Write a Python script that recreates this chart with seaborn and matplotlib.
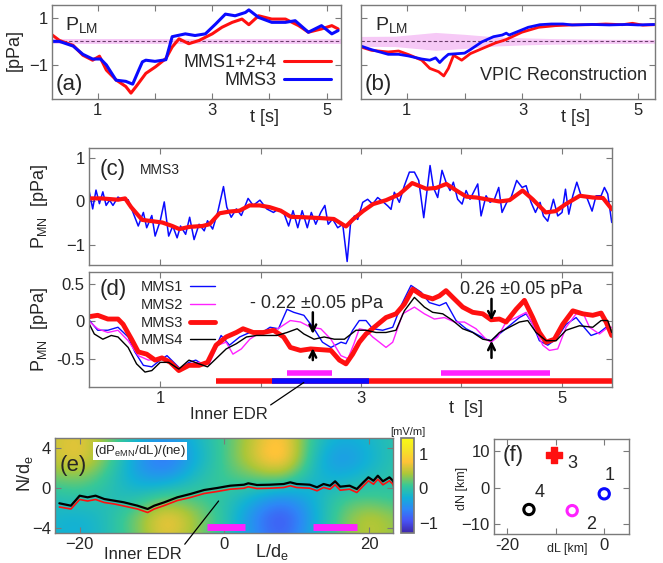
import numpy as np
import matplotlib
matplotlib.use('Agg')
import matplotlib.pyplot as plt
from matplotlib.colors import LinearSegmentedColormap
import seaborn as sns

# --
# Data

# (a) P_LM observed
a_t_red = [0.20, 0.33, 0.57, 0.74, 0.91, 1.03, 1.15, 1.32, 1.49, 1.58, 1.67, 1.84, 2.01, 2.19, 2.30, 2.42,
           2.59, 2.77, 3.00, 3.17, 3.35, 3.52, 3.64, 3.81, 4.04, 4.28, 4.51, 4.68, 4.91, 5.09, 5.20]
a_red = [0.28, 0.04, -0.17, -0.59, -0.80, -0.63, -1.22, -1.64, -1.92, -2.20, -1.92, -1.36, -1.08, -0.73, -0.24, 0.11,
         -0.10, 0.04, 0.32, 0.60, 0.81, 0.95, 0.71, 1.09, 0.95, 0.95, 0.67, 0.39, 0.53, 0.67, 0.53]
a_t_blue = [0.20, 0.33, 0.57, 0.74, 0.91, 1.05, 1.15, 1.32, 1.49, 1.61, 1.72, 1.78, 1.84, 2.00, 2.19, 2.30, 2.53,
            2.70, 2.88, 3.06, 3.23, 3.40, 3.58, 3.64, 3.81, 4.04, 4.28, 4.45, 4.68, 4.91, 5.09, 5.20]
a_blue = [0.0, 0.0, -0.20, -0.55, -0.75, -0.75, -1.00, -1.65, -1.70, -1.82, -1.20, -0.87, -0.80, -0.85, -0.78, 0.20, 0.32,
          0.25, 0.32, 0.74, 1.16, 1.09, 1.23, 1.34, 1.02, 0.81, 0.81, 0.88, 0.39, 0.67, 0.32, 0.46]
a_band_t = [0.15, 5.30]
a_band = [0.10, 0.10]

# (b) P_LM VPIC reconstruction
b_t_red = [0.21, 0.39, 0.68, 0.86, 1.03, 1.26, 1.40, 1.55, 1.64, 1.72, 1.81, 1.95, 2.10, 2.30, 2.53, 2.71,
           2.99, 3.28, 3.57, 3.86, 4.15, 4.44, 4.73, 4.90, 5.08, 5.28]
b_red = [-0.24, -0.38, -0.45, -0.41, -0.56, -0.80, -1.15, -1.29, -1.47, -1.15, -0.59, -0.80, -0.52, -0.31, -0.07, 0.07,
         0.39, 0.60, 0.67, 0.70, 0.71, 0.74, 0.71, 0.77, 0.69, 0.71]
b_t_blue = [0.21, 0.39, 0.68, 0.86, 1.03, 1.26, 1.40, 1.50, 1.57, 1.64, 1.72, 2.00, 2.10, 2.30, 2.50, 2.65, 2.72,
            2.77, 2.90, 3.10, 3.30, 3.50, 3.70, 3.86, 4.20, 4.50, 4.80, 5.00, 5.28]
b_blue = [-0.20, -0.35, -0.55, -0.55, -0.62, -0.75, -0.80, -0.70, -0.90, -0.72, -0.55, -0.50, -0.35, -0.02, 0.20, 0.27,
          0.35, 0.27, 0.40, 0.60, 0.71, 0.74, 0.74, 0.70, 0.72, 0.70, 0.72, 0.70, 0.72]
b_band_t = [0.15, 0.80, 1.50, 2.00, 2.50, 3.00, 3.50, 4.50, 5.35]
b_band = [0.21, 0.22, 0.38, 0.30, 0.20, 0.15, 0.12, 0.09, 0.08]

# (c) P_MN MMS3, raw and smoothed
c_t_raw = [0.283, 0.327, 0.360, 0.394, 0.428, 0.461, 0.495, 0.529, 0.579, 0.630, 0.680, 0.747, 0.781, 0.832,
           0.865, 0.916, 0.949, 1.000, 1.040, 1.084, 1.125, 1.168, 1.202, 1.253, 1.293, 1.337, 1.387, 1.438,
           1.471, 1.522, 1.572, 1.630, 1.663, 1.707, 1.758, 1.808, 1.875, 1.926, 1.993, 2.061, 2.128, 2.178,
           2.229, 2.279, 2.323, 2.370, 2.414, 2.465, 2.505, 2.549, 2.599, 2.640, 2.673, 2.717, 2.768, 2.818,
           2.862, 2.895, 2.934, 2.967, 3.017, 3.066, 3.116, 3.166, 3.216, 3.266, 3.299, 3.332, 3.382, 3.432,
           3.482, 3.532, 3.575, 3.625, 3.658, 3.688, 3.721, 3.764, 3.807, 3.847, 3.887, 3.920, 3.963, 4.007,
           4.047, 4.086, 4.130, 4.163, 4.196, 4.246, 4.286, 4.329, 4.372, 4.405, 4.452, 4.495, 4.551, 4.605,
           4.645, 4.694, 4.738, 4.784, 4.817, 4.860, 4.917, 4.960, 5.003, 5.037, 5.070, 5.110, 5.150, 5.193,
           5.243, 5.302, 5.342, 5.392, 5.425, 5.458, 5.498]
c_raw = [0.34, -0.17, 0.26, -0.05, 0.22, -0.09, 0.03, -0.09, 0.10, 0.03, 0.04, -0.36, -0.56, -0.25,
         -0.60, -0.32, -0.79, -0.44, -0.01, -0.79, -0.56, -0.83, -0.56, -0.75, -0.36, -0.87, -0.52, -0.67,
         -0.44, -0.63, -0.25, 0.34, -0.13, -0.36, -0.17, -0.32, 0.07, -0.09, 0.03, -0.17, -0.25, -0.17,
         -0.25, -0.56, -0.21, -0.60, -0.21, -0.60, -0.25, -0.52, -0.25, -0.09, -0.52, -0.40, -0.60, -0.52,
         -1.37, -0.52, -0.33, -0.41, -0.02, 0.05, -0.06, 0.09, 0.0, -0.10, -0.18, 0.21, -0.02, 0.36,
         0.67, 0.67, 0.48, -0.37, 0.25, 0.82, 0.32, 0.09, 0.71, 0.44, 0.25, 0.44, 0.05, -0.06,
         0.25, 0.05, 0.25, 0.40, -0.33, 0.13, -0.02, 0.05, 0.32, -0.25, -0.02, 0.09, 0.48, 0.32,
         0.36, -0.02, -0.25, -0.02, -0.33, -0.45, 0.05, -0.33, -0.25, 0.28, -0.29, 0.13, 0.44, 0.13,
         0.13, -0.22, 0.13, 0.13, 0.32, 0.17, -0.48]
c_t_smooth = [0.28, 0.41, 0.58, 0.65, 0.71, 0.82, 0.92, 1.02, 1.12, 1.19, 1.29, 1.42, 1.49, 1.59, 1.69, 1.79,
              1.89, 1.99, 2.09, 2.20, 2.30, 2.43, 2.60, 2.73, 2.85, 2.92, 3.02, 3.12, 3.25, 3.38, 3.51, 3.65,
              3.75, 3.85, 3.95, 4.05, 4.15, 4.25, 4.38, 4.48, 4.61, 4.71, 4.84, 4.94, 5.04, 5.18, 5.31, 5.41, 5.50]
c_smooth = [0.07, 0.07, 0.04, 0.07, -0.13, -0.42, -0.45, -0.48, -0.56, -0.63, -0.58, -0.56, -0.52, -0.27, -0.23, -0.21,
            -0.09, -0.09, -0.13, -0.21, -0.35, -0.36, -0.38, -0.40, -0.57, -0.41, -0.22, -0.06, 0.03, 0.16, 0.42, 0.29,
            0.31, 0.40, 0.25, 0.11, 0.09, 0.05, 0.0, 0.03, 0.25, 0.05, -0.25, -0.22, -0.06, 0.13, 0.09, 0.08, -0.18]

# (d) P_MN, four spacecraft
d_t1 = [0.283, 0.377, 0.478, 0.579, 0.680, 0.747, 0.832, 0.916, 1.000, 1.067, 1.135, 1.202, 1.286, 1.354, 1.438,
        1.522, 1.606, 1.690, 1.791, 1.892, 1.993, 2.094, 2.178, 2.263, 2.330, 2.431, 2.532, 2.616, 2.700, 2.801,
        2.850, 2.917, 2.983, 3.050, 3.116, 3.216, 3.316, 3.399, 3.498, 3.598, 3.681, 3.781, 3.847, 3.947, 4.047,
        4.146, 4.246, 4.296, 4.379, 4.478, 4.578, 4.645, 4.711, 4.777, 4.860, 4.944, 5.043, 5.143, 5.209, 5.292,
        5.375, 5.442, 5.498]
d_mms1 = [0.03, -0.12, -0.12, -0.08, -0.21, -0.41, -0.59, -0.61, -0.52, -0.46, -0.55, -0.64, -0.55, -0.52, -0.59,
          -0.44, -0.19, -0.32, -0.21, -0.15, -0.17, -0.08, -0.10, 0.16, 0.12, 0.08, -0.10, -0.28, -0.35, -0.28,
          -0.30, -0.12, 0.01, 0.01, -0.10, -0.12, -0.08, 0.21, 0.48, 0.39, 0.25, 0.21, 0.25, 0.01, -0.10,
          -0.17, -0.24, -0.26, -0.17, -0.06, 0.05, 0.10, -0.04, -0.26, -0.32, -0.24, -0.04, 0.05, -0.06, -0.19,
          -0.15, -0.08, -0.15]
d_t2 = [0.283, 0.377, 0.478, 0.579, 0.680, 0.781, 0.882, 0.983, 1.084, 1.185, 1.286, 1.387, 1.488, 1.572, 1.657,
        1.724, 1.808, 1.892, 1.993, 2.094, 2.195, 2.296, 2.397, 2.498, 2.599, 2.700, 2.800, 2.870, 2.930, 2.983,
        3.050, 3.116, 3.183, 3.249, 3.316, 3.415, 3.532, 3.631, 3.731, 3.831, 3.930, 4.030, 4.146, 4.246, 4.296,
        4.362, 4.445, 4.545, 4.645, 4.711, 4.811, 4.877, 4.960, 5.043, 5.143, 5.209, 5.276, 5.375, 5.442, 5.498]
d_mms2 = [0.01, -0.10, -0.15, -0.12, -0.26, -0.46, -0.52, -0.50, -0.52, -0.64, -0.57, -0.55, -0.57, -0.32, -0.28,
          -0.44, -0.37, -0.24, -0.15, -0.15, -0.08, 0.01, -0.01, -0.08, -0.10, -0.24, -0.46, -0.50, -0.30, -0.10,
          -0.12, -0.21, -0.28, -0.35, -0.28, 0.10, 0.19, 0.10, 0.03, 0.05, -0.01, -0.01, -0.10, -0.24, -0.28,
          -0.21, -0.01, 0.05, 0.12, -0.04, -0.32, -0.39, -0.37, -0.08, 0.10, 0.12, -0.08, -0.17, -0.10, -0.08]
d_t3 = [0.283, 0.377, 0.478, 0.579, 0.630, 0.714, 0.781, 0.865, 0.949, 1.017, 1.101, 1.185, 1.286, 1.387, 1.471,
        1.556, 1.657, 1.758, 1.825, 1.926, 2.027, 2.128, 2.229, 2.296, 2.397, 2.498, 2.599, 2.700, 2.785, 2.850,
        2.917, 2.983, 3.050, 3.150, 3.249, 3.349, 3.432, 3.515, 3.615, 3.714, 3.781, 3.847, 3.914, 4.013, 4.113,
        4.213, 4.296, 4.379, 4.445, 4.545, 4.628, 4.711, 4.777, 4.844, 4.927, 5.010, 5.110, 5.209, 5.309, 5.392,
        5.442, 5.498]
d_mms3 = [0.06, 0.08, 0.03, 0.03, -0.04, -0.24, -0.41, -0.44, -0.52, -0.49, -0.55, -0.66, -0.59, -0.59, -0.55,
          -0.32, -0.21, -0.15, -0.10, -0.15, -0.15, -0.12, -0.21, -0.35, -0.39, -0.37, -0.38, -0.39, -0.52, -0.57,
          -0.44, -0.28, -0.17, -0.06, 0.05, 0.10, 0.23, 0.43, 0.34, 0.30, 0.34, 0.41, 0.32, 0.19, 0.12,
          0.10, 0.02, 0.03, -0.01, 0.16, 0.28, 0.05, -0.15, -0.28, -0.24, -0.04, 0.14, 0.10, 0.08, 0.11,
          -0.01, -0.19]
d_t4 = [0.283, 0.343, 0.428, 0.512, 0.579, 0.680, 0.764, 0.848, 0.916, 1.000, 1.084, 1.185, 1.286, 1.387, 1.471,
        1.572, 1.657, 1.758, 1.859, 1.960, 2.061, 2.162, 2.263, 2.364, 2.431, 2.532, 2.633, 2.734, 2.835, 2.950,
        3.050, 3.150, 3.249, 3.349, 3.432, 3.532, 3.631, 3.714, 3.814, 3.914, 4.013, 4.113, 4.213, 4.296, 4.379,
        4.478, 4.578, 4.661, 4.744, 4.844, 4.944, 5.043, 5.176, 5.309, 5.392, 5.458, 5.498]
d_mms4 = [-0.01, -0.17, -0.24, -0.19, -0.21, -0.35, -0.57, -0.68, -0.66, -0.55, -0.55, -0.64, -0.52, -0.57, -0.61,
          -0.48, -0.37, -0.30, -0.21, -0.19, -0.19, -0.19, -0.15, -0.10, -0.17, -0.24, -0.21, -0.24, -0.24, -0.12,
          -0.12, -0.15, -0.15, -0.12, 0.14, 0.32, 0.19, 0.12, 0.10, 0.01, -0.10, -0.15, -0.24, -0.26, -0.15,
          -0.08, -0.01, 0.01, -0.15, -0.26, -0.26, -0.12, -0.06, -0.08, 0.01, 0.01, -0.15]
d_red_bar = [1.56, 5.50]
d_blue_bar = [2.11, 3.08]
d_mag_bars = [(2.26, 2.71), (3.80, 4.88)]
d_arrow_t = [2.52, 4.30]

# (e) dP_eMN/dL / (ne) map, coarse grid (rows N = 5..-5, cols L = -24..24)
e_L_nodes = [-24, -20, -16, -12, -8, -4, 0, 4, 8, 12, 16, 20, 24]
e_N_nodes = [5, 3, 1, -1, -3, -5]
e_field = [
    [0.5, 0.7, 0.3, -0.2, -0.5, -0.2, 0.1, 0.5, 0.9, 0.0, -0.3, -0.2, 0.0],
    [0.5, 0.8, 0.2, -0.5, -0.9, -0.3, 0.1, 0.6, 1.1, -0.1, -0.6, -0.3, 0.0],
    [0.2, 0.3, 0.0, -0.4, -0.5, -0.1, 0.1, 0.2, 0.3, -0.2, -0.3, -0.1, 0.0],
    [-0.1, 0.0, -0.1, -0.1, 0.2, 0.1, 0.0, -0.3, -0.6, -0.3, 0.1, 0.1, 0.0],
    [-0.2, -0.3, -0.1, 0.3, 0.9, 0.4, 0.0, -0.6, -1.1, -0.4, 0.2, 0.6, 0.3],
    [-0.2, -0.3, -0.1, 0.2, 0.7, 0.3, 0.0, -0.5, -0.9, -0.3, 0.2, 0.5, 0.3],
]
e_L = [-22.8, -21.2, -20.0, -18.9, -17.8, -16.6, -15.2, -13.9, -12.0, -10.6, -9.7, -8.3, -6.5, -4.7, -2.8, -1.0,
       0.8, 2.7, 3.3, 4.5, 6.3, 8.2, 9.1, 10.0, 11.8, 12.8, 13.7, 14.6, 15.3, 16.0, 17.3, 18.3, 19.2, 19.9,
       20.6, 21.2, 21.9, 22.8, 23.3, 23.7]
e_black = [-1.53, -1.77, -0.77, -0.93, -0.77, -1.10, -1.27, -1.43, -1.77, -2.10, -1.77, -1.43, -0.93, -0.60, -0.20,
           0.0, 0.23, 0.33, 0.47, 0.30, 0.33, 0.40, 0.57, 0.40, 0.33, 0.07, 0.40, 0.23, 0.67, 0.13, 0.23, -0.10,
           0.57, 1.07, 0.73, 1.23, 0.67, 1.07, 0.73, -0.60]
e_red = [-1.90, -2.10, -1.15, -1.30, -1.15, -1.45, -1.60, -1.80, -2.10, -2.45, -2.10, -1.75, -1.25, -0.95, -0.55,
         -0.35, -0.12, -0.02, 0.12, -0.05, -0.02, 0.05, 0.22, 0.05, -0.02, -0.28, 0.05, -0.12, 0.32, -0.22, -0.12,
         -0.45, 0.22, 0.72, 0.38, 0.88, 0.32, 0.72, 0.38, -0.95]
e_mag_bars = [(-2.4, 2.9), (12.3, 18.3)]

# (f) spacecraft positions
f_names = ['1', '2', '3', '4']
f_dL = [0.0, -6.6, -10.3, -15.5]
f_dN = [-1.7, -6.3, 8.8, -6.0]

# --
# Style

sns.set_theme(style='ticks')
plt.rcParams['font.family'] = ['Liberation Sans', 'DejaVu Sans']
plt.rcParams['mathtext.default'] = 'regular'

RED = '#ff1010'
BLUE = '#0a0aff'
MAG = '#ff22ff'
SPINE = '#7a7a7a'

parula = LinearSegmentedColormap.from_list('parula', [
    (0.2422, 0.1504, 0.6603), (0.2810, 0.3228, 0.9579), (0.1786, 0.5289, 0.9682),
    (0.0689, 0.6948, 0.8394), (0.2161, 0.7843, 0.5923), (0.6720, 0.7793, 0.2227),
    (0.9970, 0.7659, 0.2199), (0.9639, 0.8890, 0.1537), (0.9769, 0.9839, 0.0805)])


def frame(ax, size=12):
    for s in ax.spines.values():
        s.set_color(SPINE)
        s.set_linewidth(1.0)
    ax.tick_params(direction='in', top=True, right=True, length=4, width=0.8,
                   color=SPINE, labelsize=size, pad=3)


fig = plt.figure(figsize=(6.63, 5.63), dpi=100)

# --
# (a)
ax = fig.add_axes([0.0784, 0.8242, 0.4359, 0.167])
ax.fill_between(a_band_t, -np.array(a_band), a_band, color='#f6c9f6', lw=0)
ax.axhline(0, color='#6a3d6a', lw=0.8, ls=(0, (3, 2)))
sns.lineplot(x=a_t_red, y=a_red, ax=ax, color=RED, lw=2.2, estimator=None, label='MMS1+2+4')
sns.lineplot(x=a_t_blue, y=a_blue, ax=ax, color=BLUE, lw=2.2, estimator=None, label='MMS3')
ax.set_xlim(0.2, 5.25)
ax.set_ylim(-2.45, 1.55)
ax.set_xticks([1, 2, 3, 4, 5], ['1', '', '3', '', '5'])
ax.set_yticks([-1, 1])
frame(ax)
ax.legend(loc='lower right', frameon=False, markerfirst=False, fontsize=13, handlelength=2.6,
          labelspacing=0.05, borderaxespad=0.15, handletextpad=0.4)
ax.set_ylabel('[pPa]', fontsize=13)
ax.yaxis.set_label_coords(-0.1, 0.52)
ax.set_xlabel('t [s]', fontsize=13)
ax.xaxis.set_label_coords(0.737, -0.11)
ax.text(0.26, -1.85, '(a)', fontsize=16, va='center')
ax.text(0.43, 0.7, r'$\mathregular{P_{LM}}$', fontsize=14, va='center')

# --
# (b)
ax = fig.add_axes([0.5445, 0.8242, 0.4434, 0.167])
ax.fill_between(b_band_t, -np.array(b_band), b_band, color='#f6c9f6', lw=0)
ax.axhline(0, color='#6a3d6a', lw=0.8, ls=(0, (3, 2)))
sns.lineplot(x=b_t_red, y=b_red, ax=ax, color=RED, lw=2.0, estimator=None)
sns.lineplot(x=b_t_blue, y=b_blue, ax=ax, color=BLUE, lw=2.0, estimator=None)
ax.set_xlim(0.21, 5.29)
ax.set_ylim(-2.45, 1.55)
ax.set_xticks([1, 2, 3, 4, 5], ['1', '', '3', '', '5'])
ax.set_yticks([-1, 1], ['', ''])
frame(ax)
ax.set_xlabel('t [s]', fontsize=13)
ax.xaxis.set_label_coords(0.728, -0.11)
ax.text(0.28, -1.85, '(b)', fontsize=16, va='center')
ax.text(0.45, 0.7, r'$\mathregular{P_{LM}}$', fontsize=14, va='center')
ax.text(5.15, -1.45, 'VPIC Reconstruction', fontsize=13, ha='right', va='center')

# --
# (c)
ax = fig.add_axes([0.1342, 0.5293, 0.7888, 0.2078])
sns.lineplot(x=c_t_raw, y=c_raw, ax=ax, color=BLUE, lw=1.1, estimator=None)
sns.lineplot(x=c_t_smooth, y=c_smooth, ax=ax, color=RED, lw=3.0, estimator=None)
ax.set_xlim(0.29, 5.5)
ax.set_ylim(-1.45, 1.22)
ax.set_xticks([1, 2, 3, 4, 5], [])
ax.set_yticks([-1, 0, 1])
frame(ax, 12)
ax.set_ylabel(r'$\mathregular{P_{MN}}$  [pPa]', fontsize=13)
ax.yaxis.set_label_coords(-0.075, 0.5)
ax.text(0.40, 0.72, '(c)', fontsize=16, va='center')
ax.text(0.80, 0.72, 'MMS3', fontsize=10, va='center')

# --
# (d)
ax = fig.add_axes([0.1342, 0.3126, 0.7888, 0.2043])
sns.lineplot(x=d_t1, y=d_mms1, ax=ax, color=BLUE, lw=1.0, estimator=None, label='MMS1')
sns.lineplot(x=d_t2, y=d_mms2, ax=ax, color=MAG, lw=1.0, estimator=None, label='MMS2')
sns.lineplot(x=d_t3, y=d_mms3, ax=ax, color=RED, lw=3.5, estimator=None, label='MMS3')
sns.lineplot(x=d_t4, y=d_mms4, ax=ax, color='black', lw=1.0, estimator=None, label='MMS4')
ax.plot(d_red_bar, [-0.80, -0.80], color=RED, lw=4, solid_capstyle='butt')
ax.plot(d_blue_bar, [-0.80, -0.80], color=BLUE, lw=4, solid_capstyle='butt')
for b0, b1 in d_mag_bars:
    ax.plot([b0, b1], [-0.69, -0.69], color=MAG, lw=4, solid_capstyle='butt')
arr = dict(arrowstyle='->', lw=1.8, color='black', mutation_scale=12, shrinkA=0, shrinkB=0)
ax.annotate('', xy=(d_arrow_t[0], -0.17), xytext=(d_arrow_t[0], 0.12), arrowprops=arr)
ax.annotate('', xy=(d_arrow_t[0], -0.36), xytext=(d_arrow_t[0], -0.52), arrowprops=arr)
ax.annotate('', xy=(d_arrow_t[1], 0.01), xytext=(d_arrow_t[1], 0.30), arrowprops=arr)
ax.annotate('', xy=(d_arrow_t[1], -0.26), xytext=(d_arrow_t[1], -0.49), arrowprops=arr)
ax.text(1.89, 0.24, '- 0.22 \u00b10.05 pPa', fontsize=13, va='center')
ax.text(3.99, 0.43, '0.26 \u00b10.05 pPa', fontsize=13, va='center')
ax.annotate('Inner EDR', xy=(2.43, -0.82), xytext=(1.68, -1.25), fontsize=12, ha='center', va='center',
            annotation_clip=False,
            arrowprops=dict(arrowstyle='-', lw=0.9, color='black', relpos=(1, 1), shrinkA=0, shrinkB=0))
ax.set_xlim(0.29, 5.5)
ax.set_ylim(-0.88, 0.66)
ax.set_xticks([1, 2, 3, 4, 5], ['1', '', '3', '', '5'])
ax.set_yticks([-0.5, 0, 0.5], ['-0.5', '0', '0.5'])
frame(ax, 12)
ax.legend(loc='upper left', bbox_to_anchor=(0.085, 0.99), frameon=False, markerfirst=False, fontsize=10.5,
          handlelength=1.7, labelspacing=0.25, borderaxespad=0.1, handletextpad=0.5)
ax.set_ylabel(r'$\mathregular{P_{MN}}$  [pPa]', fontsize=13)
ax.yaxis.set_label_coords(-0.075, 0.5)
ax.set_xlabel('t  [s]', fontsize=13)
ax.xaxis.set_label_coords(0.72, -0.11)
ax.text(0.40, 0.43, '(d)', fontsize=16, va='center')

# --
# (e)
ax = fig.add_axes([0.083, 0.0533, 0.5098, 0.1687])
im = ax.imshow(e_field, extent=[e_L_nodes[0] - 2, e_L_nodes[-1] + 2, e_N_nodes[-1] - 1, e_N_nodes[0] + 1],
               cmap=parula, vmin=-1.3, vmax=1.45, interpolation='bicubic', aspect='auto', origin='upper')
sns.lineplot(x=e_L, y=e_black, ax=ax, color='black', lw=1.6, estimator=None, sort=False)
sns.lineplot(x=e_L, y=e_red, ax=ax, color=RED, lw=1.2, estimator=None, sort=False)
for b0, b1 in e_mag_bars:
    ax.plot([b0, b1], [-3.9, -3.9], color=MAG, lw=5, solid_capstyle='butt')
ax.annotate('Inner EDR', xy=(-0.8, -1.3), xytext=(-11.2, -6.7), fontsize=12, ha='center', va='center',
            annotation_clip=False,
            arrowprops=dict(arrowstyle='-', lw=0.9, color='black', relpos=(1, 1), shrinkA=0, shrinkB=0))
ax.set_xlim(-23.4, 23.3)
ax.set_ylim(-4.5, 5)
ax.set_xticks([-20, 0, 20])
ax.set_yticks([-4, 0, 4])
frame(ax, 12)
ax.set_ylabel(r'$\mathregular{N/d_e}$', fontsize=13)
ax.yaxis.set_label_coords(-0.06, 0.62)
ax.set_xlabel(r'$\mathregular{L/d_e}$', fontsize=13)
ax.xaxis.set_label_coords(0.64, -0.09)
ax.text(-22.8, 2.3, '(e)', fontsize=16, va='center')
ax.text(-18.0, 3.7, r'$\mathregular{(dP_{eMN}/dL)/(ne)}$', fontsize=9.5, va='center',
        bbox=dict(facecolor='white', edgecolor='none', pad=1.0))

cax = fig.add_axes([0.6048, 0.0533, 0.0196, 0.1687])
cb = fig.colorbar(im, cax=cax, ticks=[-1, 0, 1])
cb.outline.set_edgecolor(SPINE)
cax.tick_params(labelsize=12, direction='in', length=3)
cax.set_title('[mV/m]', fontsize=8, pad=2)

# --
# (f)
ax = fig.add_axes([0.7451, 0.0515, 0.2036, 0.1687])
f_cols = [BLUE, MAG, RED, 'black']
for i in range(4):
    if f_names[i] == '3':
        sns.scatterplot(x=[f_dL[i]], y=[f_dN[i]], ax=ax, marker='P', s=130, color=f_cols[i],
                        edgecolor=f_cols[i], linewidth=1)
    else:
        sns.scatterplot(x=[f_dL[i]], y=[f_dN[i]], ax=ax, marker='o', s=55, facecolor='none',
                        edgecolor=f_cols[i], linewidth=2.2)
offs = [(4, 13), (14, -10), (13, -6), (8, 12)]
for i in range(4):
    ax.annotate(f_names[i], (f_dL[i], f_dN[i]), xytext=offs[i], textcoords='offset points',
                fontsize=13, ha='center', va='center')
ax.set_xlim(-22.7, 5.1)
ax.set_ylim(-12.7, 13.3)
ax.set_xticks([-20, -10, 0], ['-20', '', '0'])
ax.set_yticks([-10, 0, 10])
frame(ax, 12)
ax.set_ylabel('dN [km]', fontsize=9)
ax.yaxis.set_label_coords(-0.19, 0.48)
ax.set_xlabel('dL [km]', fontsize=9)
ax.xaxis.set_label_coords(0.54, -0.09)
ax.text(-21, 8.8, '(f)', fontsize=16, va='center')

fig.savefig('out.png', dpi=100)
